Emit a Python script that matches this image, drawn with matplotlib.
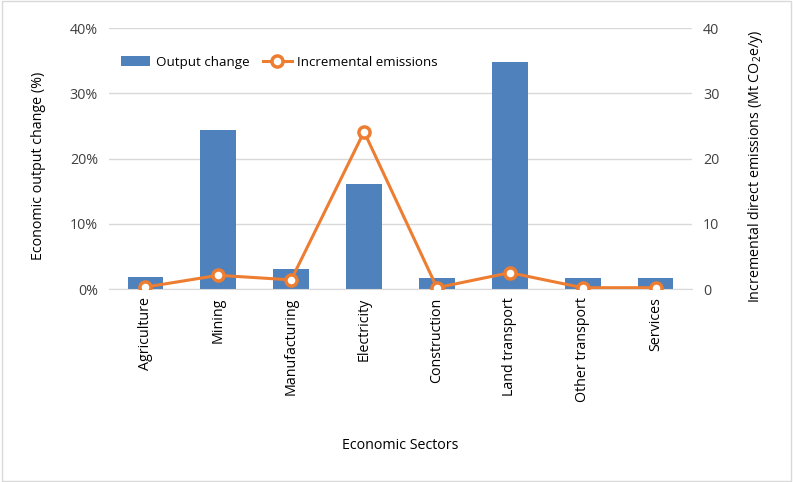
import matplotlib
matplotlib.use("Agg")
import matplotlib.pyplot as plt
from matplotlib.ticker import FuncFormatter, MultipleLocator
from matplotlib.patches import Rectangle

plt.rcParams['font.family'] = ['Open Sans', 'DejaVu Sans']
plt.rcParams['mathtext.fontset'] = 'custom'
plt.rcParams['mathtext.rm'] = 'Open Sans'

sectors = ["Agriculture", "Mining", "Manufacturing", "Electricity",
           "Construction", "Land transport", "Other transport", "Services"]
output_change = [1.8, 24.4, 3.1, 16.1, 1.7, 34.8, 1.7, 1.7]  # %
emissions = [0.3, 2.1, 1.4, 24.1, 0.2, 2.5, 0.2, 0.2]  # Mt CO2e/y

blue = "#4F81BD"
orange = "#ED7D31"
txt = "#000000"
grid = "#D9D9D9"
fs = 10.3

fig = plt.figure(figsize=(7.93, 4.82), dpi=100)
fig.patches.append(Rectangle((0.002, 0.002), 0.996, 0.996, transform=fig.transFigure,
                             fill=False, edgecolor="#D9D9D9", linewidth=1))
ax = fig.add_axes([0.1375, 0.4004, 0.7351, 0.5415])
x = list(range(len(sectors)))
bars = ax.bar(x, output_change, width=0.49, color=blue, zorder=2, label="Output change")
ax.set_ylim(0, 40)
ax.set_xlim(-0.5, len(sectors) - 0.5)
ax.yaxis.set_major_locator(MultipleLocator(10))
ax.yaxis.set_major_formatter(FuncFormatter(lambda v, p: f"{v:.0f}%"))
ax.grid(axis='y', color=grid, linewidth=1, zorder=0)
ax.set_axisbelow(True)
for s in ["top", "left", "right"]:
    ax.spines[s].set_visible(False)
ax.spines["bottom"].set_color(grid)
ax.tick_params(axis='both', length=0, labelsize=fs, colors="#404040")
ax.tick_params(axis='y', pad=8)
ax.tick_params(axis='x', pad=6)
ax.set_xticks(x)
ax.set_xticklabels(sectors, rotation=90, fontsize=fs, color=txt)
ax.set_ylabel("Economic output change (%)", fontsize=fs, color=txt)
ax.yaxis.set_label_coords(-0.108, 0.47)
ax.set_xlabel("Economic Sectors", fontsize=fs, color=txt)
ax.xaxis.set_label_coords(0.5, -0.57)

ax2 = ax.twinx()
line, = ax2.plot(x, emissions, color=orange, linewidth=2.2, marker='o', markersize=8,
                 markerfacecolor='white', markeredgecolor=orange, markeredgewidth=2.5,
                 zorder=3, label="Incremental emissions")
ax2.set_ylim(0, 40)
ax2.yaxis.set_major_locator(MultipleLocator(10))
for s in ["top", "left", "right", "bottom"]:
    ax2.spines[s].set_visible(False)
ax2.tick_params(axis='y', length=0, labelsize=fs, colors="#404040", pad=8)
ax2.set_ylabel(r"Incremental direct emissions (Mt CO$_2$e/y)", fontsize=fs, color=txt,
               rotation=90)
ax2.yaxis.set_label_coords(1.092, 0.47)

ax.legend([bars, line], ["Output change", "Incremental emissions"], loc='upper left',
          bbox_to_anchor=(0.0, 0.94), ncol=2, frameon=False, fontsize=9.6,
          handlelength=2.2, columnspacing=1.0, handletextpad=0.4)

fig.savefig("out.png", dpi=100)
